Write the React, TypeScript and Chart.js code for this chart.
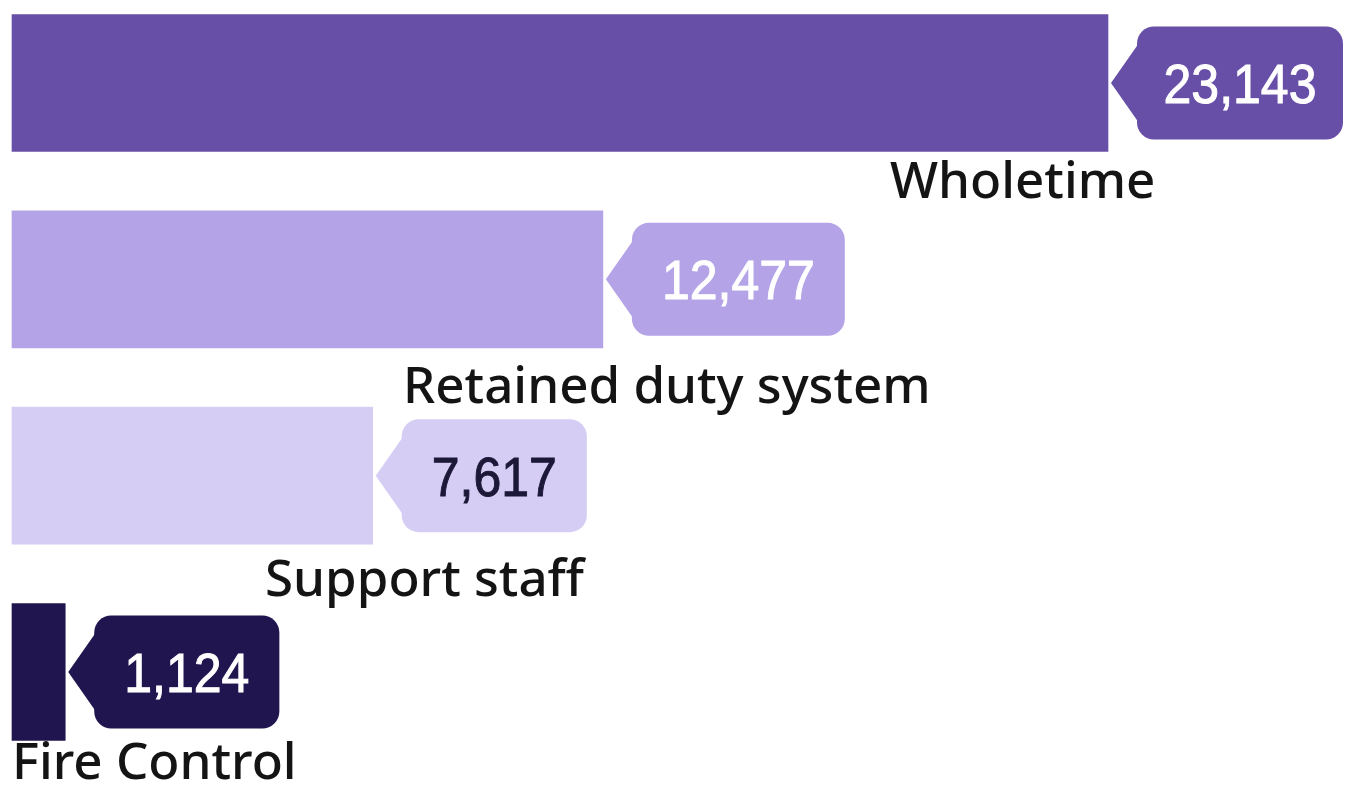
import React, { useEffect, useRef } from "react";
import { Chart, registerables } from "chart.js";

Chart.register(...registerables);

const categories = ["Wholetime", "Retained duty system", "Support staff", "Fire Control"];
const values = [23143, 12477, 7617, 1124];
const valueLabels = ["23,143", "12,477", "7,617", "1,124"];
const barColors = ["#674ea7", "#b5a3e8", "#d6cdf5", "#211550"];
const calloutTextColors = ["#ffffff", "#ffffff", "#1c1838", "#ffffff"];

// layout of the category labels (left x in px, baseline offset below bar bottom)
const labelLeft = [890, 403, 265, 12];
const labelBaselineOffset = [46, 55, 52, 38];

const LABEL_FONT = '500 46px "Noto Sans", "Open Sans", sans-serif';
const VALUE_FONT = '50px "Liberation Sans", Arial, sans-serif';
const STRETCH_Y = 1.12;
const LABEL_STRETCH_X = 1.11;

const calloutPlugin = {
  id: "callouts",
  afterDatasetsDraw(chart: any) {
    const ctx: CanvasRenderingContext2D = chart.ctx;
    const meta = chart.getDatasetMeta(0);
    meta.data.forEach((bar: any, i: number) => {
      const endX = bar.x;
      const cy = bar.y;
      const h = bar.height;
      const bottom = cy + h / 2;

      // callout
      ctx.save();
      ctx.font = VALUE_FONT;
      const tw = ctx.measureText(valueLabels[i]).width;
      const tipX = endX + 3;
      const boxL = endX + 29;
      let boxR = boxL + tw + 60;
      if (boxR > chart.width - 3) boxR = chart.width - 3;
      const boxH = 113;
      const boxT = cy - boxH / 2;
      const r = 17;
      ctx.fillStyle = barColors[i];
      ctx.beginPath();
      ctx.roundRect(boxL, boxT, boxR - boxL, boxH, r);
      ctx.fill();
      ctx.beginPath();
      ctx.moveTo(boxL + 2, cy - 40);
      ctx.lineTo(tipX, cy);
      ctx.lineTo(boxL + 2, cy + 40);
      ctx.closePath();
      ctx.fill();

      ctx.fillStyle = calloutTextColors[i];
      ctx.strokeStyle = calloutTextColors[i];
      ctx.lineWidth = 0.9;
      ctx.textAlign = "center";
      ctx.textBaseline = "alphabetic";
      ctx.translate((boxL + boxR) / 2, cy);
      ctx.scale(1, STRETCH_Y);
      const by = (0.716 * 50) / 2;
      ctx.fillText(valueLabels[i], 0, by);
      ctx.strokeText(valueLabels[i], 0, by);
      ctx.restore();

      // category label
      ctx.save();
      ctx.font = LABEL_FONT;
      ctx.fillStyle = "#141414";
      ctx.textAlign = "left";
      ctx.textBaseline = "alphabetic";
      ctx.translate(labelLeft[i], bottom + labelBaselineOffset[i]);
      ctx.scale(LABEL_STRETCH_X, STRETCH_Y);
      ctx.fillText(categories[i], 0, 0);
      ctx.restore();
    });
  },
};

export default function App() {
  const ref = useRef<HTMLCanvasElement>(null);
  useEffect(() => {
    document.body.style.margin = "0";
    const chart = new Chart(ref.current!, {
      type: "bar",
      data: {
        labels: categories,
        datasets: [
          {
            data: values,
            backgroundColor: barColors,
            borderWidth: 0,
            barThickness: 137,
            clip: false as any,
          },
        ],
      },
      options: {
        indexAxis: "y",
        responsive: false,
        animation: false,
        layout: { padding: { left: 12, right: 238, top: 83, bottom: 130 } },
        scales: {
          x: { display: false, min: 0, max: Math.max(...values) },
          y: { display: false, offset: false },
        },
        plugins: {
          legend: { display: false },
          tooltip: { enabled: false },
        },
      },
      plugins: [calloutPlugin],
    });
    return () => chart.destroy();
  }, []);
  return (
    <canvas
      ref={ref}
      width={1346}
      height={802}
      style={{ display: "block", width: 1346, height: 802 }}
    />
  );
}
